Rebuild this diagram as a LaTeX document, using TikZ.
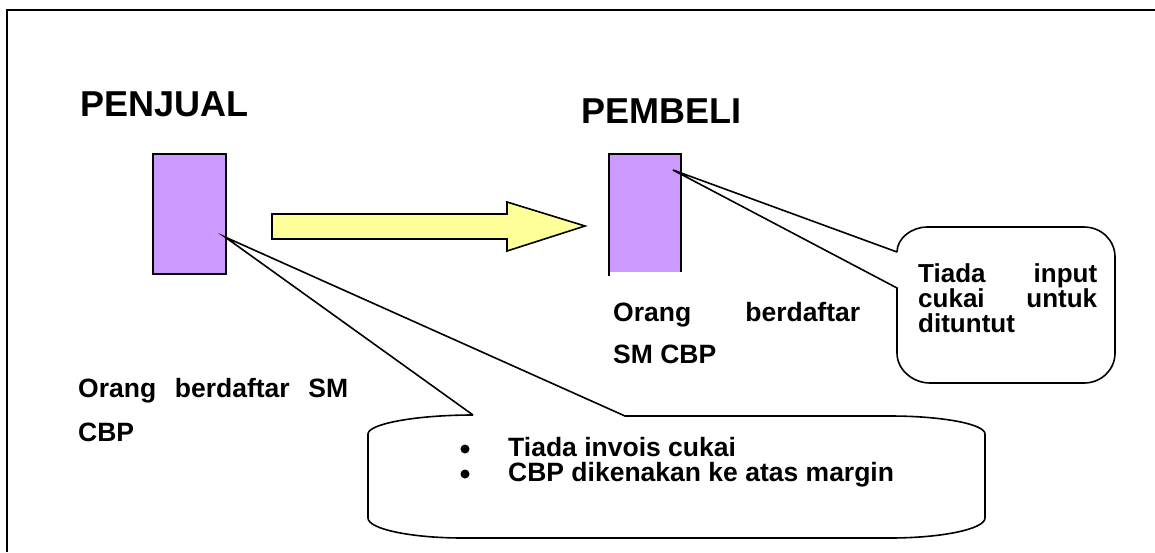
\documentclass[tikz,border=0pt]{standalone}
\usepackage{fontspec}
\setmainfont{Liberation Sans}
\definecolor{boxpurple}{HTML}{CC99FF}
\definecolor{arrowyellow}{HTML}{FFFF99}
\tikzset{
  outline/.style={draw=black, line width=1.6pt, line join=miter},
  purplebox/.style={fill=boxpurple, minimum width=73pt, minimum height=120pt, inner sep=0pt, outer sep=0pt},
  head/.style={font=\fontsize{36}{40}\selectfont\bfseries, anchor=base west, inner sep=0pt},
  body/.style={font=\fontsize{26.5}{30}\selectfont\bfseries, anchor=base west, inner sep=0pt},
  dot/.style={circle, fill=black, minimum size=9pt, inner sep=0pt},
}
\begin{document}
\begin{tikzpicture}[x=1pt, y=-1pt]
\useasboundingbox (0,0) rectangle (1155,552);
% frame (only top and left edges visible)
\draw[line width=2.5pt] (7,552) -- (7,10) -- (1155,10);

% headers
\node[head] (penjual) at (80,116) {PENJUAL};
\node[head] (pembeli) at (581,123) {PEMBELI};

% purple boxes
\node[purplebox, draw=black, line width=1.6pt, anchor=north west] (seller) at (153,154) {};
\node[purplebox, minimum width=72pt, minimum height=118pt, anchor=north west] (buyer) at (609,154) {};
\draw[line width=1.6pt] (buyer.south west) ++(0,4) -- (buyer.north west) -- (buyer.north east) -- (buyer.south east);

% yellow arrow
\coordinate (ar0) at (272,214);
\draw[outline, fill=arrowyellow] (ar0) -- (507,214) -- (507,202) -- (585,226) -- (507,251) -- (507,239) -- (272,239) -- cycle;

% left text
\node[body] (ltext1) at (78,397) {\makebox[270pt][s]{Orang berdaftar SM}};
\node[body] (ltext2) at (78,441) {CBP};

% right text
\node[body] (rtext1) at (613,321) {\makebox[247pt][s]{Orang berdaftar}};
\node[body] (rtext2) at (613,363) {SM CBP};

% right callout
\coordinate (rtip) at (673,170);
\coordinate (rc1) at (897,252);
\coordinate (rc2) at (897,288);
\draw[outline, fill=white]
  (rc1) -- (rtip) -- (rc2) -- (897,353)
  .. controls (897,370) and (913,383) .. (930,383)
  -- (1084,383)
  .. controls (1101,383) and (1115,370) .. (1115,353)
  -- (1115,257)
  .. controls (1115,240) and (1101,227) .. (1084,227)
  -- (927,227)
  .. controls (912,227) and (897,238) .. (rc1);
\node[body, font=\fontsize{26}{25}\selectfont\bfseries, align=left] (rct) at (918,332)
  {\makebox[179pt][s]{Tiada input}\\\makebox[179pt][s]{cukai untuk}\\dituntut};

% bottom callout
\coordinate (ltip) at (225,237);
\coordinate (lc1) at (473,415);
\coordinate (lc2) at (625,416);
\draw[outline, fill=white]
  (lc1) -- (ltip) -- (lc2) -- (890,416)
  .. controls (942,416) and (985,424) .. (985,434)
  -- (985,518)
  .. controls (985,529) and (942,538) .. (890,538)
  -- (463,538)
  .. controls (411,538) and (368,529) .. (368,518)
  -- (368,434)
  .. controls (368,424) and (415,415) .. (lc1);
\node[dot] (b1) at (465,449) {};
\node[dot] (b2) at (465,474) {};
\node[body, font=\fontsize{26.5}{25}\selectfont\bfseries, align=left] (bt) at (508,481)
  {Tiada invois cukai\\CBP dikenakan ke atas margin};
\end{tikzpicture}
\end{document}
